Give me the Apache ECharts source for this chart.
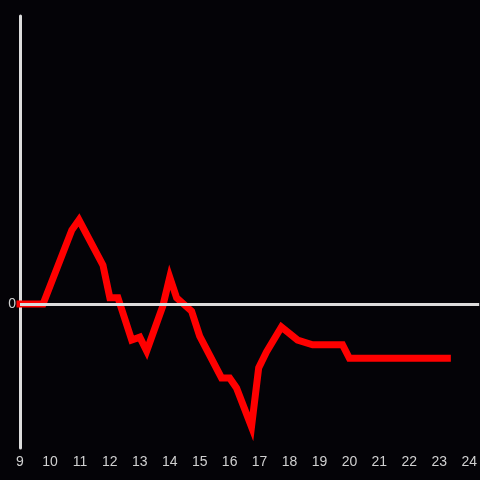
<!DOCTYPE html>
<html>
<head>
<meta charset="utf-8">
<script src="https://cdn.jsdelivr.net/npm/echarts@6/dist/echarts.min.js"></script>
<style>
  html, body { margin: 0; padding: 0; background: #040307; }
  #chart { width: 480px; height: 480px; }
</style>
</head>
<body>
<div id="chart"></div>
<script>
// x positions (hours) and y values
var xs = [9, 9.77, 10.73, 10.97, 11.77, 12.0, 12.27, 12.73, 13.0, 13.23, 13.77, 14.0, 14.23, 14.73,
  15.0, 15.73, 16.0, 16.23, 16.73, 16.97, 17.23, 17.73, 18.27, 18.77, 19.77, 20.0, 23.27]
var ys = [0, 0, 1.54, 1.75, 0.81, 0.13, 0.13, -0.75, -0.69, -0.98, -0.04, 0.56, 0.13, -0.15,
  -0.67, -1.54, -1.54, -1.75, -2.56, -1.33, -1.0, -0.48, -0.75, -0.85, -0.85, -1.13, -1.13]
var yTicks = ['0']

var points = xs.map(function (x, i) { return [x, ys[i]] })

var myChart = echarts.init(document.getElementById('chart'))
var option = {
  backgroundColor: '#040307',
  animation: false,
  grid: { left: 20, right: 0, top: 16, bottom: 32 },
  xAxis: {
    type: 'value',
    min: 9,
    max: 24.333,
    interval: 1,
    axisLine: { show: false, onZero: false },
    axisTick: { show: false },
    splitLine: { show: false },
    axisLabel: {
      color: '#d0d0d0',
      fontSize: 14,
      margin: 7,
      showMaxLabel: false,
      formatter: function (v) { return v <= 24 ? String(v) : '' },
    },
  },
  yAxis: {
    type: 'value',
    min: -3,
    max: 6,
    interval: 3,
    axisLine: { show: true, onZero: false, lineStyle: { color: '#dcdcdc', width: 3 } },
    axisTick: { show: false },
    splitLine: { show: false },
    axisLabel: {
      color: '#d0d0d0',
      fontSize: 14,
      margin: 4,
      formatter: function (v) { return yTicks.indexOf(String(v)) >= 0 ? String(v) : '' },
    },
  },
  series: [
    {
      // zero line underneath the data
      type: 'line',
      data: [],
      z: 1,
      markLine: {
        silent: true,
        symbol: ['none', 'none'],
        label: { show: false },
        lineStyle: { color: '#dcdcdc', width: 3, type: 'solid' },
        data: [{ yAxis: 0 }],
      },
    },
    {
      type: 'line',
      data: points,
      z: 3,
      clip: false,
      showSymbol: false,
      symbol: 'none',
      lineStyle: { color: '#ff0000', width: 7, cap: 'square', join: 'miter' },
    },
  ],
}
myChart.setOption(option)
</script>
</body>
</html>
